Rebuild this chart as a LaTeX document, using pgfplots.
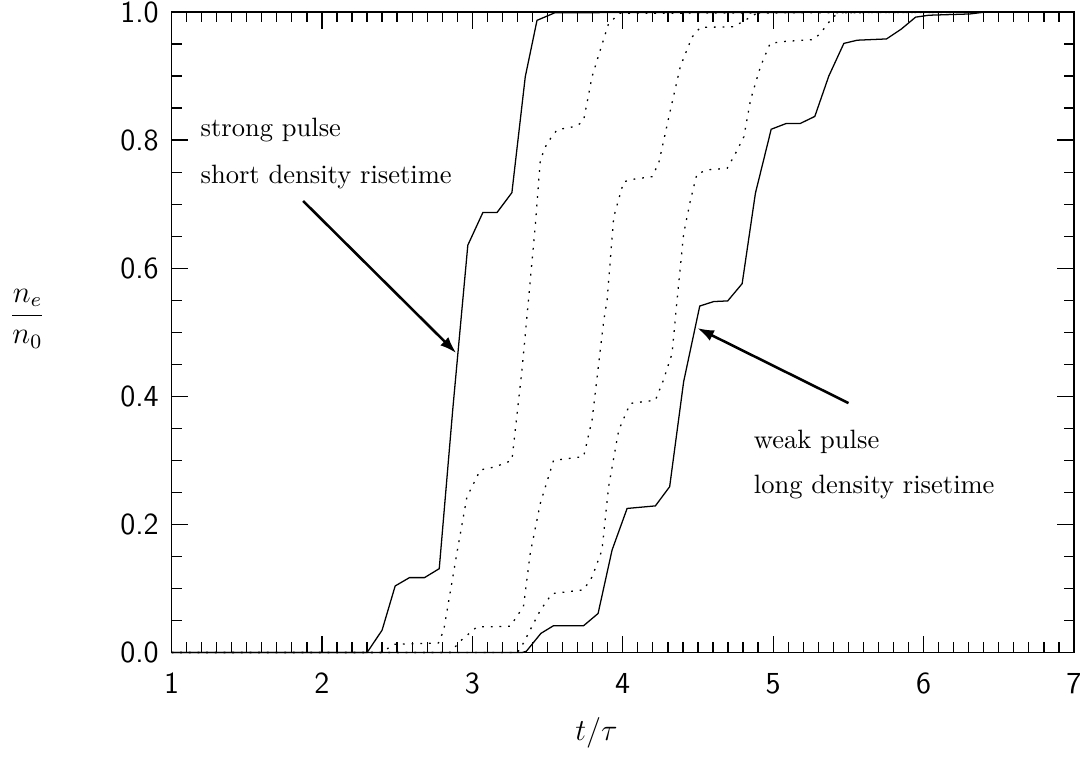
\documentclass[border=0pt]{standalone}
\usepackage{pgfplots}
\pgfplotsset{compat=1.18}
\usetikzlibrary{arrows.meta}

\begin{document}
\begin{tikzpicture}
\begin{axis}[
  scale only axis, width=352.5bp, height=250.2bp,
  xmin=1, xmax=7, ymin=0, ymax=1,
  xtick={1,2,3,4,5,6,7}, ytick={0,0.2,0.4,0.6,0.8,1.0},
  minor x tick num=9, minor y tick num=3,
  major tick length=6.5bp, minor tick length=4bp,
  tick style={black, line width=0.5pt},
  axis line style={line width=0.6pt},
  tick align=inside,
  /pgf/number format/assume math mode=true,
  ticklabel style={font=\fontsize{12}{14}\sffamily},
  yticklabel style={/pgf/number format/fixed, /pgf/number format/fixed zerofill, /pgf/number format/precision=1, xshift=-1.5bp},
  xticklabel style={yshift=-4.5bp},
  xlabel={$t/\tau$},
  xlabel style={font=\large, at={(axis description cs:0.471,-0.126)}, anchor=center},
  ylabel={$\displaystyle\frac{n_e}{n_0}$},
  ylabel style={font=\large, rotate=-90, at={(axis description cs:-0.1596,0.521)}, anchor=center},
  clip=false,
]
% strong pulse (solid)
\addplot[black, line width=0.5pt] coordinates {
(1,0) (2.30,0) (2.40,0.035) (2.487,0.104) (2.582,0.117) (2.682,0.117) (2.78,0.131) (2.87,0.38) (2.97,0.636) (3.07,0.687) (3.164,0.687) (3.263,0.718) (3.352,0.899) (3.43,0.987) (3.55,0.999) (7,1.0)
};
% dotted 1
\addplot[black, line width=0.5pt, dash pattern=on 0.7pt off 2.7pt] coordinates {
(1,0) (2.40,0) (2.476,0.013) (2.775,0.015) (2.81,0.035) (2.897,0.155) (2.964,0.243) (3.053,0.285) (3.152,0.290) (3.263,0.30) (3.33,0.441) (3.357,0.509) (3.418,0.665) (3.452,0.769) (3.496,0.795) (3.563,0.816) (3.696,0.822) (3.74,0.831) (3.796,0.899) (3.851,0.941) (3.906,0.982) (3.98,0.998) (7,1)
};
% dotted 2
\addplot[black, line width=0.5pt, dash pattern=on 0.7pt off 2.7pt] coordinates {
(1,0) (2.85,0) (2.93,0.02) (3.03,0.040) (3.252,0.041) (3.34,0.072) (3.385,0.155) (3.452,0.233) (3.54,0.30) (3.74,0.306) (3.796,0.363) (3.874,0.519) (3.896,0.55) (3.94,0.68) (4.006,0.735) (4.073,0.739) (4.195,0.743) (4.239,0.764) (4.317,0.847) (4.383,0.915) (4.461,0.961) (4.516,0.976) (4.738,0.977) (4.871,0.995) (4.9,1.0) (7,1)
};
% dotted 3
\addplot[black, line width=0.5pt, dash pattern=on 0.7pt off 2.7pt] coordinates {
(1,0) (3.30,0) (3.34,0.015) (3.452,0.066) (3.53,0.092) (3.74,0.098) (3.796,0.118) (3.862,0.16) (3.906,0.259) (3.973,0.347) (4.05,0.389) (4.217,0.394) (4.27,0.425) (4.328,0.467) (4.361,0.55) (4.405,0.654) (4.45,0.706) (4.494,0.748) (4.583,0.754) (4.694,0.756) (4.738,0.774) (4.805,0.805) (4.85,0.863) (4.916,0.915) (4.98,0.951) (5.07,0.954) (5.27,0.957) (5.315,0.967) (5.40,0.993) (5.46,0.999) (7,1)
};
% weak pulse (solid)
\addplot[black, line width=0.5pt] coordinates {
(1,0) (3.33,0) (3.359,0.002) (3.456,0.030) (3.54,0.042) (3.74,0.042) (3.836,0.061) (3.929,0.160) (4.029,0.225) (4.217,0.229) (4.312,0.259) (4.405,0.423) (4.512,0.541) (4.605,0.548) (4.698,0.549) (4.794,0.576) (4.882,0.717) (4.987,0.817) (5.087,0.826) (5.18,0.826) (5.277,0.837) (5.37,0.900) (5.47,0.951) (5.559,0.956) (5.754,0.958) (5.85,0.973) (5.947,0.992) (6.035,0.995) (6.308,0.997) (6.41,1.0) (7,1)
};
\node[anchor=base west, font=\fontsize{10.4}{12}\selectfont, inner sep=0pt] at (axis cs:1.19,0.805) {strong pulse};
\node[anchor=base west, font=\fontsize{10.4}{12}\selectfont, inner sep=0pt] at (axis cs:1.19,0.7326) {short density risetime};
\node[anchor=base west, font=\fontsize{10.4}{12}\selectfont, inner sep=0pt] at (axis cs:4.869,0.3188) {weak pulse};
\node[anchor=base west, font=\fontsize{10.4}{12}\selectfont, inner sep=0pt] at (axis cs:4.869,0.2486) {long density risetime};
\draw[line width=1bp, -{Latex[length=6.5bp,width=4.5bp]}] (axis cs:1.875,0.705) -- (axis cs:2.893,0.4676);
\draw[line width=1bp, -{Latex[length=6.5bp,width=4.5bp]}] (axis cs:5.501,0.3895) -- (axis cs:4.496,0.5066);
\coordinate (bl) at (rel axis cs:0,0);
\coordinate (tr) at (rel axis cs:1,1);
\end{axis}
\pgfresetboundingbox
\path[use as bounding box] ([shift={(-67bp,-40.8bp)}]bl) rectangle ([shift={(5.1bp,4.7bp)}]tr);
\end{tikzpicture}
\end{document}
